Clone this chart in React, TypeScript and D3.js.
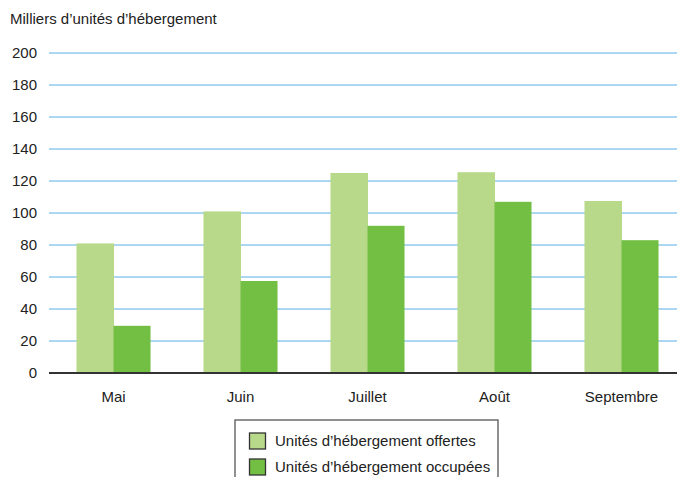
import React from "react";
import * as d3 from "d3";

const categories = ["Mai", "Juin", "Juillet", "Août", "Septembre"];
const offertes = [81, 101, 125, 125.5, 107.5];
const occupees = [29.5, 57.5, 92, 107, 83];
const yTicks = [0, 20, 40, 60, 80, 100, 120, 140, 160, 180, 200];
const seriesNames = ["Unités d’hébergement offertes", "Unités d’hébergement occupées"];
const colors = ["#b9d98a", "#72bf44"];

const W = 678;
const H = 477;
const FONT = "'Liberation Sans', Arial, sans-serif";

export default function App() {
  const x = d3
    .scaleBand<string>()
    .domain(categories)
    .range([50, 685])
    .paddingInner(0.417)
    .paddingOuter(0.2085);
  const sub = d3.scaleBand<number>().domain([0, 1]).range([0, x.bandwidth()]);
  const y = d3.scaleLinear().domain([0, 200]).range([373, 53]);
  const gridX0 = 49;
  const gridX1 = 677;
  const series = [offertes, occupees];

  return (
    <svg
      width={W}
      height={H}
      style={{ position: "absolute", left: 0, top: 0, background: "#fff" }}
      fontFamily={FONT}
    >
      <text x={10} y={24} fontSize={15} fill="#222">
        Milliers d’unités d’hébergement
      </text>
      {yTicks.map((t) => (
        <g key={t}>
          {t > 0 && (
            <line
              x1={gridX0}
              x2={gridX1}
              y1={y(t)}
              y2={y(t)}
              stroke="#abd8f0"
              strokeWidth={1.8}
            />
          )}
          <text x={37} y={y(t) + 5} fontSize={15} textAnchor="end" fill="#222">
            {t}
          </text>
        </g>
      ))}
      {categories.map((c, i) => (
        <g key={c}>
          {series.map((s, j) => (
            <rect
              key={j}
              x={(x(c) as number) + (sub(j) as number)}
              y={y(s[i])}
              width={sub.bandwidth() + (j === 0 ? 0.5 : 0)}
              height={y(0) - y(s[i])}
              fill={colors[j]}
            />
          ))}
          <text
            x={(x(c) as number) + x.bandwidth() / 2}
            y={402}
            fontSize={15}
            textAnchor="middle"
            fill="#222"
          >
            {c}
          </text>
        </g>
      ))}
      <line x1={gridX0} x2={gridX1} y1={y(0)} y2={y(0)} stroke="#333" strokeWidth={2} />
      <rect x={235} y={420} width={263} height={70} fill="none" stroke="#555" strokeWidth={1.3} />
      {seriesNames.map((n, j) => (
        <g key={n}>
          <rect
            x={249.5}
            y={433 + j * 26}
            width={16}
            height={16}
            fill={colors[j]}
            stroke="#333"
            strokeWidth={1.3}
          />
          <text x={275} y={446 + j * 26} fontSize={15} fill="#222">
            {n}
          </text>
        </g>
      ))}
    </svg>
  );
}
